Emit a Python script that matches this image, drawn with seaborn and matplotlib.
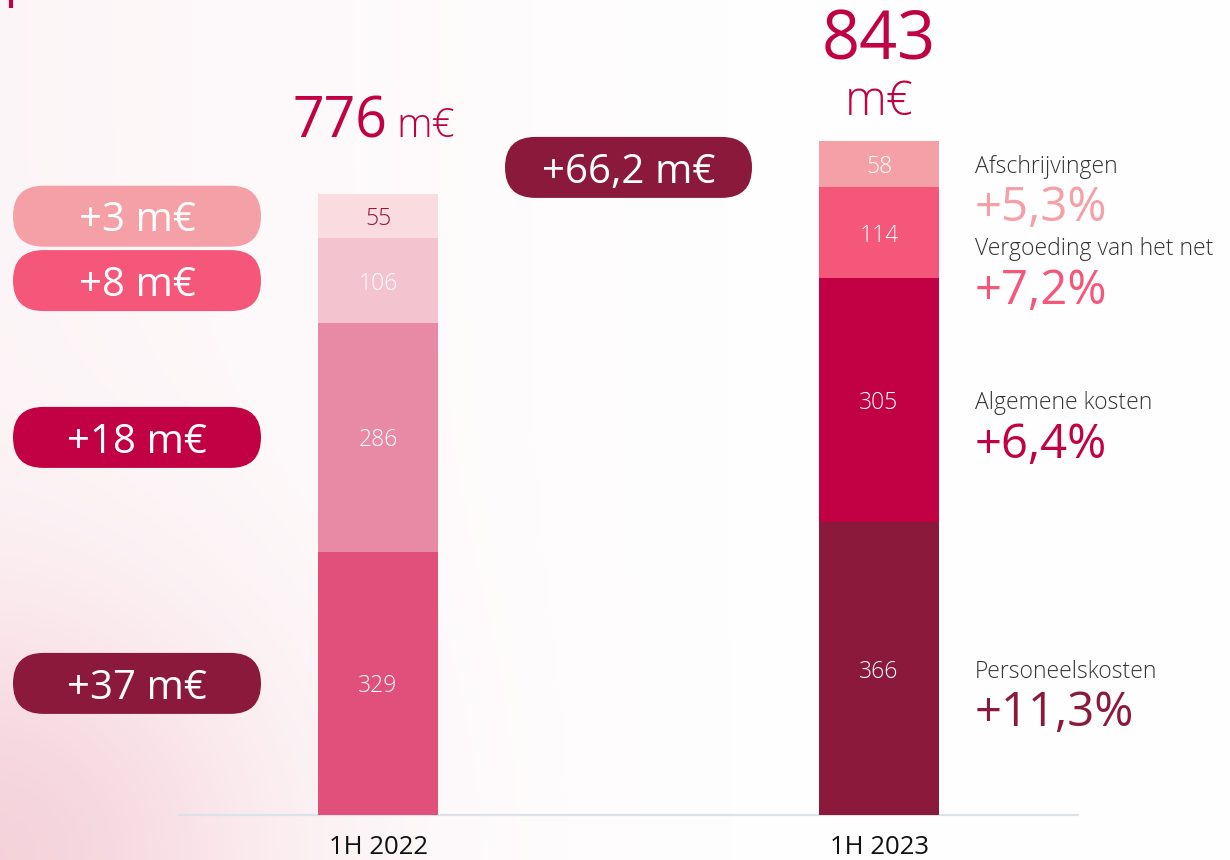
import numpy as np
import pandas as pd
import matplotlib
matplotlib.use("Agg")
import matplotlib.pyplot as plt
import seaborn as sns
from matplotlib.patches import FancyBboxPatch

# ---- data -------------------------------------------------------------
periods = ["1H 2022", "1H 2023"]
components = ["Personeelskosten", "Algemene kosten",
              "Vergoeding van het net", "Afschrijvingen"]
costs_2022 = [329, 286, 106, 55]
costs_2023 = [366, 305, 114, 58]
totals = [776, 843]
growth_abs = ["+37 m€", "+18 m€", "+8 m€", "+3 m€"]
growth_pct = ["+11,3%", "+6,4%", "+7,2%", "+5,3%"]
total_change = "+66,2 m€"
unit = "m€"

# ---- style ------------------------------------------------------------
colors_2022 = ["#E0507A", "#E88AA5", "#F3C3D0", "#FADBE0"]
colors_2023 = ["#8B193B", "#C20044", "#F4577A", "#F4A0A6"]
value_text_2022 = ["white", "white", "white", "#8B193B"]
value_text_2023 = ["white", "white", "white", "white"]

sns.set_theme(style="white")
plt.rcParams["font.family"] = ["Open Sans", "DejaVu Sans"]

W, H, DPI = 1230, 860, 100
fig = plt.figure(figsize=(W / DPI, H / DPI), dpi=DPI)

# soft pink wash on the left, fading to white
bg = fig.add_axes([0, 0, 1, 1], zorder=0)
bg.axis("off")
gx, gy = np.meshgrid(np.linspace(0, 1, 410), np.linspace(0, 1, 287))
tint = 0.09 * np.clip(1 - gx / 0.7, 0, 1) ** 1.2
tint += 0.33 * np.exp(-((gx / 0.22) ** 2 + ((1 - gy) / 0.30) ** 2))
pink = np.array([232, 150, 170]) / 255.0
img = 1 - tint[..., None] * (1 - pink)
bg.imshow(img, extent=[0, 1, 1, 0], aspect="auto", interpolation="bilinear")
bg.set_xlim(0, 1)
bg.set_ylim(1, 0)

# main chart axes
ax = fig.add_axes([0, 0, 1, 1], zorder=1)
ax.patch.set_alpha(0)

bar_w = 0.2395
stack = np.array([costs_2022, costs_2023])
tops = stack.cumsum(axis=1)
bottoms = tops - stack

# stacked bars: draw cumulative heights from the tallest layer down
for k in reversed(range(len(components))):
    layer = pd.DataFrame({"period": periods, "top": tops[:, k]})
    sns.barplot(data=layer, x="period", y="top", hue="period",
                order=periods, hue_order=periods,
                palette={periods[0]: colors_2022[k], periods[1]: colors_2023[k]},
                width=bar_w, saturation=1, linewidth=0, legend=False, ax=ax)

ax.set_xlim(-0.7545, 1.7006)
ax.set_ylim(-56.25, 1018.75)
ax.axis("off")

ax.hlines(0, -0.4, 1.4, color="#DCE3E8", lw=1.6, zorder=0.5)

# segment values
for j, (vals, tcols) in enumerate([(costs_2022, value_text_2022),
                                    (costs_2023, value_text_2023)]):
    for k, v in enumerate(vals):
        ax.text(j, (bottoms[j, k] + tops[j, k]) / 2, f"{v}",
                ha="center", va="center_baseline", fontsize=16.5,
                fontweight="light", color=tcols[k], zorder=5)

# period labels
for j, p in enumerate(periods):
    ax.text(j, -37, p, ha="center", va="center_baseline", fontsize=18.5,
            fontweight="medium", color="#111111")

# totals above the bars
red = "#C20044"
ax.text(0.018, totals[0] + 71, f"{totals[0]}", ha="right", va="baseline",
        fontsize=40, color=red)
ax.text(0.036, totals[0] + 71, unit, ha="left", va="baseline",
        fontsize=29, fontweight="light", color=red)
ax.text(1, totals[1] + 101, f"{totals[1]}", ha="center", va="baseline",
        fontsize=48, color=red)
ax.text(1, totals[1] + 32, unit, ha="center", va="baseline",
        fontsize=34, fontweight="light", color=red)

# component labels with growth rates, right of the 2023 bar
label_x = 1.1916
label_y = [0.0] * 4
prev = None
for k in reversed(range(4)):
    centre = (bottoms[1, k] + tops[1, k]) / 2
    label_y[k] = centre if prev is None else min(centre, prev - 103)
    prev = label_y[k]
for k in range(4):
    ax.text(label_x, label_y[k], components[k], ha="left",
            va="center_baseline", fontsize=16.5, fontweight="light",
            color="#333333")
    ax.text(label_x, label_y[k] - 49, growth_pct[k], ha="left",
            va="center_baseline", fontsize=34, color=colors_2023[k])

# pill badges, drawn in pixel space so the rounded ends stay round
ov = fig.add_axes([0, 0, 1, 1], zorder=2)
ov.set_xlim(0, W)
ov.set_ylim(H, 0)
ov.axis("off")
ov.patch.set_alpha(0)


def to_px(xd, yd):
    dx, dy = ax.transData.transform((xd, yd))
    return dx, H - dy


def pill(cx, cy, text, color, w=248, h=61):
    ov.add_patch(FancyBboxPatch((cx - w / 2, cy - h / 2), w, h,
                                boxstyle=f"round,pad=0,rounding_size={h / 2}",
                                fc=color, ec="none", zorder=3))
    ov.text(cx, cy, text, ha="center", va="center_baseline", fontsize=29,
            color="white", zorder=4)


pill_x = 137
for k in range(4):
    _, cy = to_px(0, (bottoms[0, k] + tops[0, k]) / 2)
    pill(pill_x, cy, growth_abs[k], colors_2023[k])

cx, cy = to_px(0.5, sum(totals) / 2)
pill(cx, cy, total_change, colors_2023[0], w=247)

ov.plot([11, 11], [0, 8], color=red, lw=3, solid_capstyle="butt")

fig.savefig("out.png", dpi=DPI)
